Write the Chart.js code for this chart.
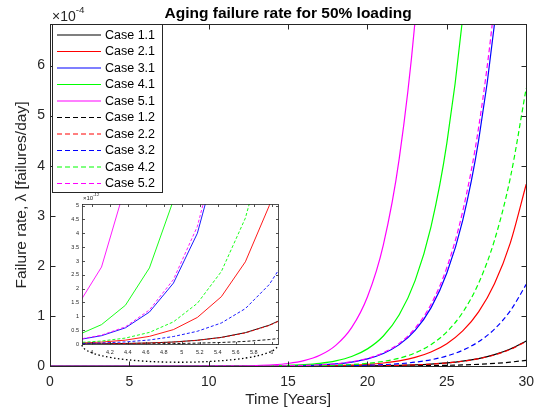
<!DOCTYPE html>
<html>
<head>
<meta charset="utf-8">
<script src="https://cdn.jsdelivr.net/npm/chart.js@4.4.0/dist/chart.umd.min.js"></script>
<style>
  body { margin: 0; background: #fff; }
  #wrap { position: relative; width: 542px; height: 412px; }
  #main { position: absolute; left: 0; top: 0; }
  #inset { position: absolute; left: 60px; top: 186px; }
</style>
</head>
<body>
<div id="wrap">
  <canvas id="main" width="542" height="412"></canvas>
  <canvas id="inset" width="230" height="186"></canvas>
</div>
<script>
// values in units of 1e-4 failures/day (main) and 1e-12 (inset)
const caseNames = ["Case 1.1", "Case 2.1", "Case 3.1", "Case 4.1", "Case 5.1",
                   "Case 1.2", "Case 2.2", "Case 3.2", "Case 4.2", "Case 5.2"];
const lineColors = ["#000000", "#ff0000", "#0000ff", "#00ff00", "#ff00ff",
                    "#000000", "#ff0000", "#0000ff", "#00ff00", "#ff00ff"];

const years = [0, 1, 2, 3, 4, 5, 6, 7, 8, 9, 10, 11, 12, 13, 14, 15, 16, 17, 18, 19, 20,
               21, 22, 23, 24, 25, 26, 27, 28, 29, 30];

const case11 = [0, 0, 0, 0, 0, 0, 0, 0, 0, 0, 0, 0, 0, 0, 0.0001, 0.0002, 0.0004, 0.0007, 0.0014, 0.0026, 0.0047,
                0.0083, 0.0141, 0.0235, 0.0384, 0.0615, 0.0965, 0.149, 0.226, 0.339, 0.50];
const case21 = [0, 0, 0, 0, 0, 0, 0, 0, 0, 0, 0, 0, 0.0001, 0.0002, 0.0006, 0.0013, 0.0026, 0.0053, 0.0102, 0.019, 0.0343,
                0.060, 0.1025, 0.171, 0.279, 0.446, 0.700, 1.081, 1.642, 2.46, 3.63];
const case31 = [0, 0, 0, 0, 0, 0, 0, 0, 0, 0, 0, 0.0001, 0.0004, 0.001, 0.0024, 0.0052, 0.011, 0.022, 0.0424, 0.079, 0.1425,
                0.250, 0.427, 0.711, 1.160, 1.856, 2.91, 4.50, 6.83, 10.22, 15.1];
const case41 = [0, 0, 0, 0, 0, 0, 0, 0, 0, 0, 0.0001, 0.0004, 0.001, 0.0024, 0.0056, 0.0125, 0.0262, 0.0527, 0.102, 0.189, 0.342,
                0.599, 1.023, 1.705, 2.78, 4.45, 6.98, 10.78, 16.37, 24.5, 36.2];
const case51 = [0, 0, 0, 0, 0, 0, 0, 0, 0, 0.0001, 0.0005, 0.0014, 0.0039, 0.0097, 0.0229, 0.0505, 0.106, 0.213, 0.412, 0.766, 1.383,
                2.42, 4.14, 6.90, 11.26, 18.0, 28.26, 43.6, 66.3, 99.2, 146.5];
const case12 = [0, 0, 0, 0, 0, 0, 0, 0, 0, 0, 0, 0, 0, 0, 0, 0, 0.0001, 0.0002, 0.0003, 0.0006, 0.0011,
                0.0019, 0.0032, 0.0054, 0.0088, 0.014, 0.022, 0.0339, 0.0516, 0.0772, 0.114];
const case22 = [0, 0, 0, 0, 0, 0, 0, 0, 0, 0, 0, 0, 0, 0, 0.0001, 0.0002, 0.0004, 0.0007, 0.0014, 0.0026, 0.0046,
                0.0081, 0.0138, 0.0231, 0.0377, 0.0602, 0.0945, 0.146, 0.222, 0.332, 0.49];
const case32 = [0, 0, 0, 0, 0, 0, 0, 0, 0, 0, 0, 0, 0, 0.0001, 0.0003, 0.0006, 0.0012, 0.0024, 0.0046, 0.0085, 0.0154,
                0.027, 0.046, 0.0768, 0.125, 0.200, 0.314, 0.485, 0.737, 1.104, 1.63];
const case42 = [0, 0, 0, 0, 0, 0, 0, 0, 0, 0, 0, 0, 0.0001, 0.0004, 0.0009, 0.0019, 0.004, 0.0081, 0.0156, 0.029, 0.0524,
                0.0919, 0.157, 0.261, 0.4265, 0.682, 1.071, 1.652, 2.51, 3.76, 5.55];
const case52 = [0, 0, 0, 0, 0, 0, 0, 0, 0, 0, 0, 0.0001, 0.0004, 0.0011, 0.0025, 0.0055, 0.0116, 0.0233, 0.045, 0.0837, 0.151,
                0.265, 0.452, 0.753, 1.230, 1.966, 3.09, 4.76, 7.24, 10.83, 16.0];

// zoomed window, years 4 to 6
const insetYears = [3.84, 4.107, 4.373, 4.64, 4.907, 5.173, 5.44, 5.707, 5.973, 6.24];
const in11 = [0.0045, 0.0097, 0.019, 0.038, 0.072, 0.135, 0.24, 0.41, 0.68, 1.08];
const in21 = [0.032, 0.070, 0.140, 0.276, 0.52, 0.96, 1.71, 2.97, 5.0, 8.3];
const in31 = [0.15, 0.30, 0.585, 1.156, 2.2, 4.0, 7.2, 12.5, 21.1, 34.9];
const in41 = [0.32, 0.70, 1.40, 2.75, 5.2, 9.6, 17, 29, 49, 81];
const in51 = [1.38, 2.78, 5.72, 11.3, 21.5, 39.4, 70, 122, 206, 340];
const in12 = [0.001, 0.0022, 0.0043, 0.0087, 0.0165, 0.031, 0.055, 0.094, 0.16, 0.26];
const in22 = [0.0044, 0.0095, 0.0186, 0.037, 0.070, 0.132, 0.235, 0.40, 0.67, 1.06];
const in32 = [0.019, 0.038, 0.075, 0.145, 0.27, 0.46, 0.76, 1.28, 2.15, 3.5];
const in42 = [0.049, 0.107, 0.214, 0.42, 0.80, 1.47, 2.62, 4.55, 7.7, 12.7];
const in52 = [0.16, 0.32, 0.62, 1.23, 2.33, 4.25, 7.6, 13.2, 22.3, 36.8];

const xTicks = [0, 5, 10, 15, 20, 25, 30];
const yTicks = [0, 1, 2, 3, 4, 5, 6];

const font = "'Liberation Sans', Arial, Helvetica, sans-serif";
const axisColor = "#262626";

function makeSets(xs, series, width, dash) {
  return series.map((ys, i) => ({
    label: caseNames[i],
    data: xs.map((x, k) => ({ x: x, y: ys[k] })),
    borderColor: lineColors[i],
    borderWidth: width,
    borderDash: i >= 5 ? dash : [],
    pointRadius: 0,
    fill: false,
    order: series.length - i,
  }));
}

// MATLAB style box with inward ticks
function boxPlugin(len, width) {
  return {
    id: "box",
    afterDraw(chart) {
      const { ctx, chartArea: a, scales } = chart;
      const l = Math.round(a.left) + 0.5, r = Math.round(a.right) + 0.5;
      const t = Math.round(a.top) + 0.5, b = Math.round(a.bottom) + 0.5;
      ctx.save();
      ctx.setLineDash([]);
      ctx.strokeStyle = axisColor;
      ctx.lineWidth = width;
      ctx.strokeRect(l, t, r - l, b - t);
      ctx.beginPath();
      scales.x.ticks.forEach((tk) => {
        const px = Math.round(scales.x.getPixelForValue(tk.value)) + 0.5;
        ctx.moveTo(px, b); ctx.lineTo(px, b - len);
        ctx.moveTo(px, t); ctx.lineTo(px, t + len);
      });
      scales.y.ticks.forEach((tk) => {
        const py = Math.round(scales.y.getPixelForValue(tk.value)) + 0.5;
        ctx.moveTo(l, py); ctx.lineTo(l + len, py);
        ctx.moveTo(r, py); ctx.lineTo(r - len, py);
      });
      ctx.stroke();
      ctx.restore();
    },
  };
}

function exponent(ctx, x, y, size, sup) {
  ctx.font = size + "px " + font;
  ctx.fillStyle = axisColor;
  ctx.textAlign = "left";
  ctx.textBaseline = "middle";
  ctx.fillText("\u00d710", x, y);
  const w = ctx.measureText("\u00d710").width;
  ctx.font = (size * 0.7) + "px " + font;
  ctx.fillText(sup, x + w, y - size * 0.45);
}

const extras = {
  id: "extras",
  afterDraw(chart) {
    const { ctx, chartArea: a } = chart;
    ctx.save();
    // title
    ctx.font = "bold 15.5px " + font;
    ctx.fillStyle = "#000";
    ctx.textAlign = "center";
    ctx.textBaseline = "middle";
    ctx.fillText("Aging failure rate for 50% loading", (a.left + a.right) / 2, 14);
    exponent(ctx, a.left + 2, 17, 14, "-4");

    // legend
    const lx = 52.5, ly = 24.5, lw = 110, lh = 168;
    ctx.fillStyle = "#fff";
    ctx.fillRect(lx, ly, lw, lh);
    ctx.strokeStyle = axisColor;
    ctx.lineWidth = 1;
    ctx.strokeRect(lx, ly, lw, lh);
    chart.data.datasets.forEach((ds, i) => {
      const yy = 35 + i * 16.5;
      ctx.beginPath();
      ctx.strokeStyle = ds.borderColor;
      ctx.lineWidth = ds.borderWidth;
      ctx.setLineDash(ds.borderDash);
      ctx.moveTo(57, yy);
      ctx.lineTo(101, yy);
      ctx.stroke();
      ctx.setLineDash([]);
      ctx.fillStyle = "#000";
      ctx.font = "12.5px " + font;
      ctx.textAlign = "left";
      ctx.fillText(ds.label, 105, yy + 0.5);
    });

    // dotted callout below the inset
    ctx.beginPath();
    ctx.strokeStyle = "#000";
    ctx.lineWidth = 1.3;
    ctx.setLineDash([1.5, 2.5]);
    ctx.moveTo(82, 345);
    ctx.bezierCurveTo(85, 368, 274, 368, 278, 345);
    ctx.stroke();
    ctx.restore();
  },
};

new Chart(document.getElementById("main"), {
  type: "line",
  data: { datasets: makeSets(years, [case11, case21, case31, case41, case51,
                                     case12, case22, case32, case42, case52], 1.2, [5, 3]) },
  options: {
    responsive: false,
    animation: false,
    cubicInterpolationMode: "monotone",
    layout: { padding: { top: 24, right: 12, left: 0, bottom: 0 } },
    plugins: { legend: { display: false }, tooltip: { enabled: false } },
    scales: {
      x: {
        type: "linear",
        min: 0,
        max: 30,
        afterFit: (s) => { s.height = 46; },
        afterBuildTicks: (s) => { s.ticks = xTicks.map((v) => ({ value: v })); },
        grid: { display: false, drawTicks: false },
        border: { display: false },
        ticks: { padding: 8, color: axisColor, font: { family: font, size: 14 } },
        title: {
          display: true,
          text: "Time [Years]",
          color: axisColor,
          font: { family: font, size: 15.5 },
          padding: { top: 0, bottom: 3 },
        },
      },
      y: {
        min: 0,
        max: 6.83,
        afterFit: (s) => { s.width = 50; },
        afterBuildTicks: (s) => { s.ticks = yTicks.map((v) => ({ value: v })); },
        grid: { display: false, drawTicks: false },
        border: { display: false },
        ticks: { padding: 5, color: axisColor, font: { family: font, size: 14 } },
        title: {
          display: true,
          text: "Failure rate, \u03bb [failures/day]",
          color: axisColor,
          font: { family: font, size: 15.5 },
          padding: { top: 12, bottom: 0 },
        },
      },
    },
  },
  plugins: [boxPlugin(5, 1), extras],
});

const insetExtras = {
  id: "insetExtras",
  beforeDraw(chart) {
    const { ctx, chartArea: a } = chart;
    ctx.save();
    ctx.fillStyle = "#fff";
    ctx.fillRect(a.left, a.top, a.right - a.left, a.bottom - a.top);
    ctx.restore();
  },
  afterDraw(chart) {
    const { ctx, chartArea: a } = chart;
    ctx.save();
    exponent(ctx, a.left + 1, a.top - 6, 6, "-12");
    ctx.restore();
  },
};

const oneDecimal = (v) => String(Math.round(v * 10) / 10);

new Chart(document.getElementById("inset"), {
  type: "line",
  data: { datasets: makeSets(insetYears, [in11, in21, in31, in41, in51,
                                          in12, in22, in32, in42, in52], 0.9, [3, 2]) },
  options: {
    responsive: false,
    animation: false,
    layout: { padding: { top: 18, right: 12, left: 0, bottom: 0 } },
    plugins: { legend: { display: false }, tooltip: { enabled: false } },
    scales: {
      x: {
        type: "linear",
        min: 3.89,
        max: 6.07,
        afterFit: (s) => { s.height = 28; },
        grid: { display: false, drawTicks: false },
        border: { display: false },
        ticks: { stepSize: 0.2, includeBounds: false, padding: 5, color: axisColor,
                 font: { family: font, size: 5.5 }, callback: oneDecimal, maxRotation: 0, autoSkip: false },
      },
      y: {
        min: 0,
        max: 5.06,
        afterFit: (s) => { s.width = 22; },
        grid: { display: false, drawTicks: false },
        border: { display: false },
        ticks: { stepSize: 0.5, includeBounds: false, padding: 3, color: axisColor,
                 font: { family: font, size: 5.5 }, callback: oneDecimal, autoSkip: false },
      },
    },
  },
  plugins: [boxPlugin(2.5, 0.8), insetExtras],
});
</script>
</body>
</html>
